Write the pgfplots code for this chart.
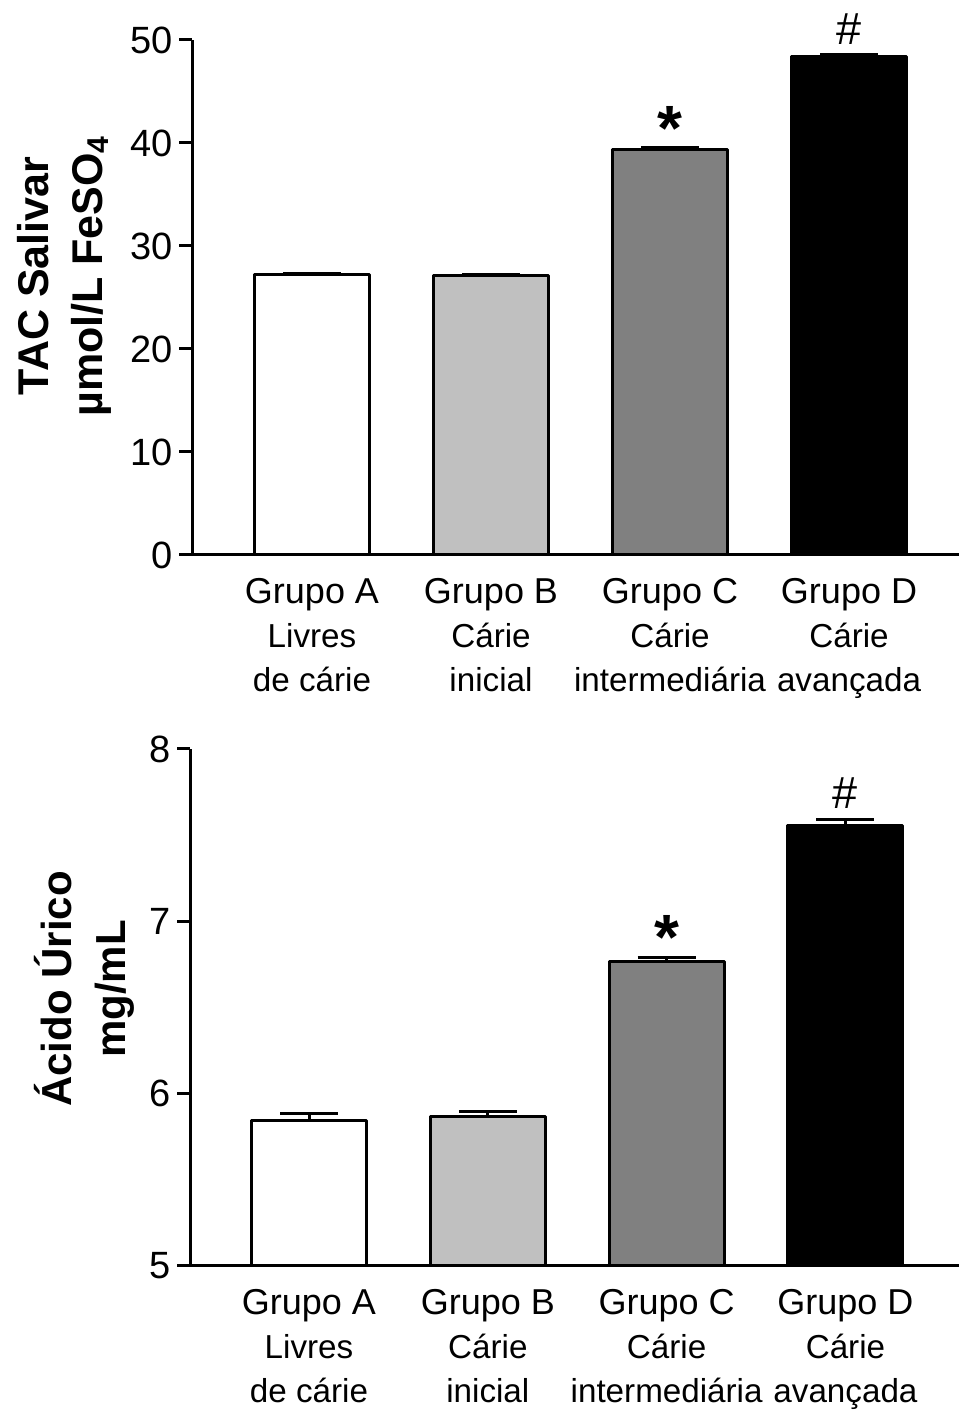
\documentclass[border=0pt]{standalone}
\usepackage{fontspec}
\setmainfont{Liberation Sans}
\usepackage{pgfplots}
\pgfplotsset{compat=1.18}
\definecolor{lgray}{RGB}{192,192,192}
\definecolor{dgray}{RGB}{128,128,128}
\pgfplotsset{
  panel/.style={
    scale only axis,
    axis lines*=left,
    axis line style={line width=1.5pt},
    tick align=outside,
    major tick length=6.5pt,
    xtick={1,2,3,4},
    xtick style={draw=none},
    ytick style={draw=black, line width=1.5pt},
    xticklabels={{\fontsize{18}{22}\selectfont Grupo A\\Livres\\de cárie},
                 {\fontsize{18}{22}\selectfont Grupo B\\Cárie\\inicial},
                 {\fontsize{18}{22}\selectfont Grupo C\\Cárie\\intermediária},
                 {\fontsize{18}{22}\selectfont Grupo D\\Cárie\\avançada}},
    xticklabel style={align=center, anchor=north, inner sep=0pt, font=\fontsize{16.6}{22}\selectfont},
    yticklabel style={anchor=east, inner sep=0pt, font=\fontsize{19}{19}\selectfont},
    /pgf/number format/assume math mode=true,
    clip=false,
  },
  bars/.style={ybar, bar width=57.5pt, draw=black, line width=1.5pt, line join=round,
    error bars/y dir=plus, error bars/y explicit,
    error bars/error bar style={line width=1.5pt, black},
    error bars/error mark options={rotate=90, line width=1.5pt, mark size=14.5pt, black}},
}
\begin{document}
\begin{tikzpicture}
\path[use as bounding box] (0,0) rectangle (479.5pt,706pt);
% top panel
\begin{axis}[panel, at={(96pt,428.5pt)}, anchor=south west,
  width=383.5pt, height=257.5pt,
  xticklabel style={yshift=-5pt}, yticklabel style={xshift=-3pt},
  xmin=0.3296, xmax=4.6145, ymin=0, ymax=50, ytick={0,10,20,30,40,50}]
\addplot[bars, fill=white] coordinates {(1,27.2) +- (0,0.12)};
\addplot[bars, fill=lgray] coordinates {(2,27.15) +- (0,0.1)};
\addplot[bars, fill=dgray] coordinates {(3,39.4) +- (0,0.15)};
\addplot[bars, fill=black] coordinates {(4,48.4) +- (0,0.15)};
\node[anchor=base, font=\fontsize{32}{32}\bfseries\selectfont] at (axis cs:3,39.3) {*};
\node[anchor=base, font=\fontsize{22.5}{22.5}\selectfont] at (axis cs:4,49.6) {\#};
\end{axis}
% bottom panel
\begin{axis}[panel, at={(95pt,73.15pt)}, anchor=south west,
  width=384.5pt, height=258.35pt,
  xticklabel style={yshift=-5pt}, yticklabel style={xshift=-3pt},
  xmin=0.3345, xmax=4.635, ymin=5, ymax=8, ytick={5,6,7,8}]
\addplot[bars, fill=white] coordinates {(1,5.845) +- (0,0.04)};
\addplot[bars, fill=lgray] coordinates {(2,5.868) +- (0,0.025)};
\addplot[bars, fill=dgray] coordinates {(3,6.765) +- (0,0.025)};
\addplot[bars, fill=black] coordinates {(4,7.556) +- (0,0.035)};
\node[anchor=base, font=\fontsize{32}{32}\bfseries\selectfont] at (axis cs:3,6.775) {*};
\node[anchor=base, font=\fontsize{22.5}{22.5}\selectfont] at (axis cs:4,7.655) {\#};
\end{axis}
\node[rotate=90, align=center, font=\fontsize{21.5}{27}\bfseries\selectfont] at (32pt,568pt) {TAC Salivar\\µmol/L FeSO\textsubscript{4}};
\node[rotate=90, align=center, font=\fontsize{21}{27}\bfseries\selectfont] at (42pt,211.5pt) {Ácido Úrico\\mg/mL};
\end{tikzpicture}
\end{document}
